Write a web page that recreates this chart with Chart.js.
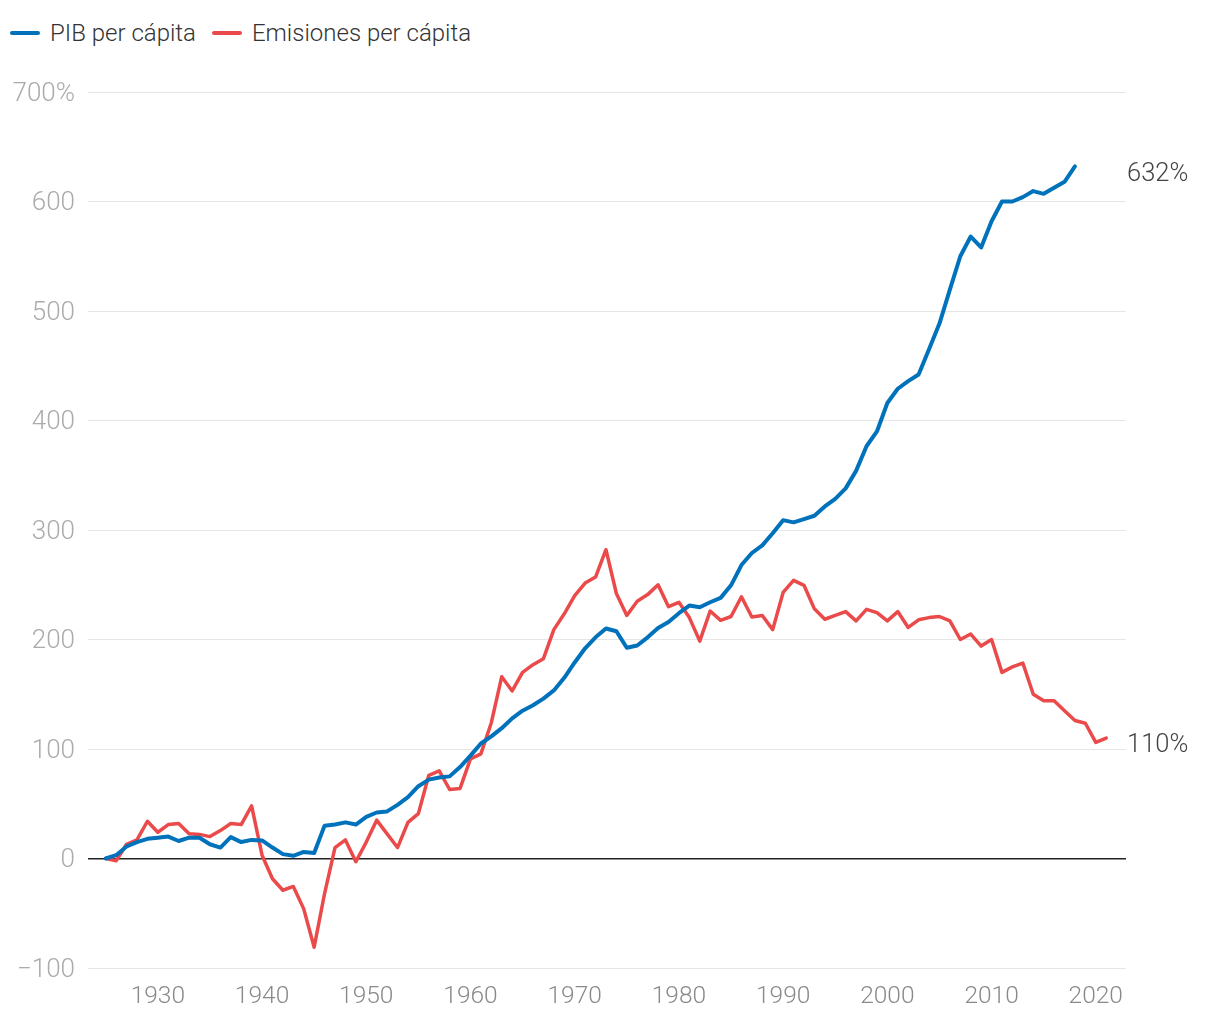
<!DOCTYPE html>
<html>
<head>
<meta charset="utf-8">
<script src="https://cdn.jsdelivr.net/npm/chart.js@4"></script>
<style>
  html, body { margin: 0; padding: 0; background: #fff; }
  body { width: 1220px; height: 1020px; position: relative; overflow: hidden; font-family: Roboto, "Noto Sans", sans-serif; }
  #legend { position: absolute; left: 10px; top: 19px; display: flex; align-items: center; font-size: 24px; font-weight: 300; color: #333; }
  .item { display: flex; align-items: center; margin-right: 16px; }
  .swatch { width: 30px; height: 4px; border-radius: 2px; margin-right: 10px; }
  #chart { position: absolute; left: 0; top: 0; }
</style>
</head>
<body>
<div id="legend"></div>
<canvas id="chart" width="1220" height="1020"></canvas>
<script>
const years = [
  1925, 1926, 1927, 1928, 1929, 1930, 1931, 1932, 1933, 1934,
  1935, 1936, 1937, 1938, 1939, 1940, 1941, 1942, 1943, 1944,
  1945, 1946, 1947, 1948, 1949, 1950, 1951, 1952, 1953, 1954,
  1955, 1956, 1957, 1958, 1959, 1960, 1961, 1962, 1963, 1964,
  1965, 1966, 1967, 1968, 1969, 1970, 1971, 1972, 1973, 1974,
  1975, 1976, 1977, 1978, 1979, 1980, 1981, 1982, 1983, 1984,
  1985, 1986, 1987, 1988, 1989, 1990, 1991, 1992, 1993, 1994,
  1995, 1996, 1997, 1998, 1999, 2000, 2001, 2002, 2003, 2004,
  2005, 2006, 2007, 2008, 2009, 2010, 2011, 2012, 2013, 2014,
  2015, 2016, 2017, 2018, 2019, 2020, 2021
];

// PIB per cápita, % change since 1925 (1925-2018)
const pib = [
  0, 3, 11, 15, 18, 19, 20, 16, 19, 19,
  13, 10, 19.5, 15, 17, 16.5, 10, 4, 2.5, 6,
  5, 30, 31, 33, 31, 38, 42, 43, 49, 56,
  66, 72, 74, 75, 83.5, 94, 105, 111.5, 119, 128,
  135, 140, 146, 153.5, 165, 179, 192, 202, 210, 207.5,
  192.5, 194.5, 202, 210.5, 216, 224, 231, 229.5, 234, 238,
  249.5, 268, 279, 286, 297, 309, 307, 310, 313, 321.5,
  328.5, 338, 354, 376.5, 390, 416, 429, 436, 442, 465,
  488.5, 519.5, 550, 568, 558, 582, 600, 600, 604, 609.5,
  607, 612.5, 618, 632
];

// Emisiones per cápita, % change since 1925 (1925-2021)
const emisiones = [
  0, -2, 13, 17, 34, 24, 31, 32, 22.5, 22,
  20, 25.5, 32, 31, 48, 3, -18.5, -29, -25.5, -46,
  -81, -32, 10, 17, -3, 15, 35, 22.5, 10, 33,
  41, 76, 80, 63, 64, 91, 95.5, 124, 166, 153,
  170, 177, 182.5, 209, 223.5, 240, 251.5, 257, 282, 242,
  222, 235, 241, 250, 230, 234, 220, 198.5, 226, 217.5,
  221, 239, 220.5, 222, 209, 243, 254, 249.5, 228, 218.5,
  222, 225.5, 217, 227.5, 224.5, 217, 225.5, 211, 218, 220,
  221, 217, 200, 205, 194, 200, 170, 175, 178.5, 150,
  144, 144, 135, 126, 123.5, 106, 110
];

const xTicks = [1930, 1940, 1950, 1960, 1970, 1980, 1990, 2000, 2010, 2020];
const yTicks = [-100, 0, 100, 200, 300, 400, 500, 600, 700];

const BLUE = "#0072bc";
const RED = "#ea4a4a";

const series = [
  { label: "PIB per cápita", values: pib, color: BLUE, width: 4 },
  { label: "Emisiones per cápita", values: emisiones, color: RED, width: 3.5 },
];

// html legend
const legend = document.getElementById("legend");
series.forEach(s => {
  const it = document.createElement("div");
  it.className = "item";
  const sw = document.createElement("span");
  sw.className = "swatch";
  sw.style.background = s.color;
  const tx = document.createElement("span");
  tx.textContent = s.label;
  it.appendChild(sw);
  it.appendChild(tx);
  legend.appendChild(it);
});

// end-of-line value labels
const endLabels = {
  id: "endLabels",
  afterDatasetsDraw(chart) {
    const { ctx, chartArea } = chart;
    ctx.save();
    ctx.font = "300 25.5px Roboto";
    ctx.fillStyle = "#444";
    ctx.textAlign = "left";
    ctx.textBaseline = "middle";
    chart.data.datasets.forEach((ds, i) => {
      const meta = chart.getDatasetMeta(i);
      const last = meta.data[meta.data.length - 1];
      const v = ds.data[ds.data.length - 1].y;
      ctx.fillText(Math.round(v) + "%", chartArea.right + 1, last.y + 8);
    });
    ctx.restore();
  }
};

const ctx = document.getElementById("chart");
new Chart(ctx, {
  type: "line",
  data: {
    datasets: series.map(s => ({
      label: s.label,
      data: s.values.map((v, i) => ({ x: years[i], y: v })),
      borderColor: s.color,
      backgroundColor: s.color,
      borderWidth: s.width,
      pointRadius: 0,
      tension: 0,
      borderJoinStyle: "round",
      borderCapStyle: "round",
    })),
  },
  options: {
    responsive: false,
    animation: false,
    devicePixelRatio: 1,
    layout: { padding: { top: 92, right: 94, bottom: 0, left: 0 } },
    plugins: {
      legend: { display: false },
      tooltip: { enabled: false },
    },
    scales: {
      x: {
        type: "linear",
        min: 1923.3,
        max: 2022.9,
        afterBuildTicks: scale => { scale.ticks = xTicks.map(v => ({ value: v })); },
        afterFit: scale => { scale.height = 52; },
        grid: { display: false, drawTicks: false },
        border: { display: false },
        ticks: {
          color: "#8a8a8a",
          font: { family: "Roboto", size: 24.5, weight: "300" },
          padding: 14,
          maxRotation: 0,
          autoSkip: false,
          callback: v => String(v),
        },
      },
      y: {
        min: -100,
        max: 700,
        afterBuildTicks: scale => { scale.ticks = yTicks.map(v => ({ value: v })); },
        afterFit: scale => { scale.width = 88; },
        grid: {
          drawTicks: false,
          color: c => (c.tick && c.tick.value === 0 ? "#222" : "#e6e6e6"),
          lineWidth: c => (c.tick && c.tick.value === 0 ? 1.5 : 1),
        },
        border: { display: false },
        ticks: {
          color: "#ababab",
          font: { family: "Roboto", size: 26, weight: "300" },
          padding: 13,
          labelOffset: 2,
          autoSkip: false,
          callback: v => (v === 700 ? "700%" : v < 0 ? "\u2212" + Math.abs(v) : String(v)),
        },
      },
    },
  },
  plugins: [endLabels],
});
</script>
</body>
</html>
